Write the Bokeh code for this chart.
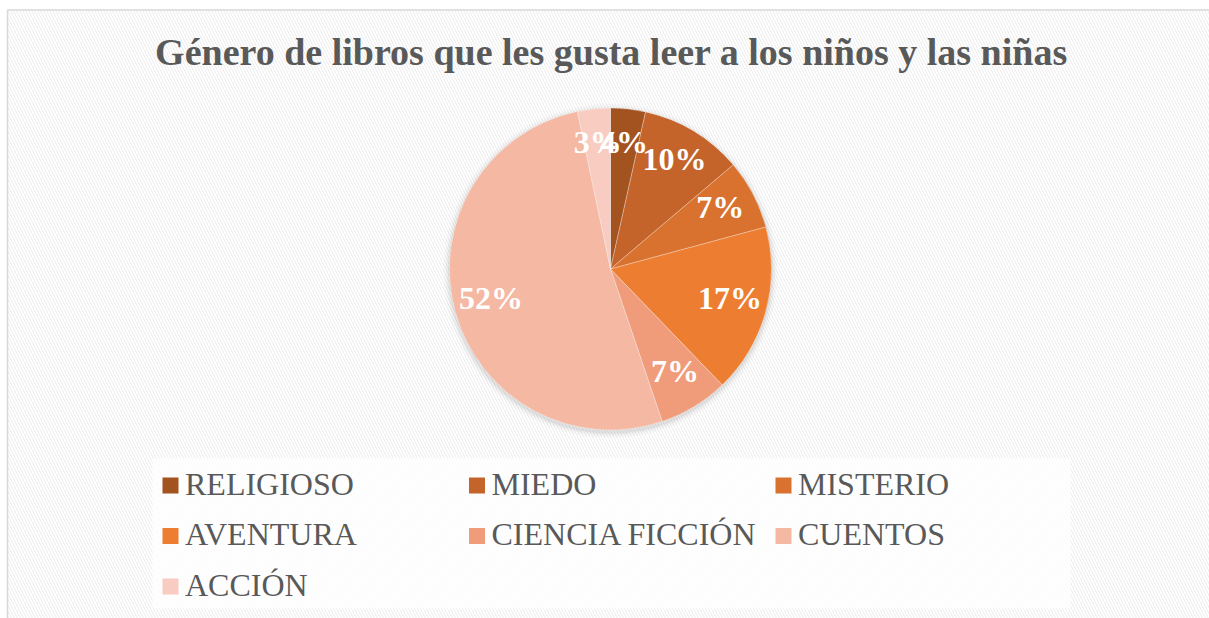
import math
from bokeh.plotting import figure
from bokeh.models import Range1d
from bokeh.core.properties import value
from bokeh.embed import file_html
from bokeh.resources import INLINE

# ---- data ----
title_text = "Género de libros que les gusta leer a los niños y las niñas"
categories = ["RELIGIOSO", "MIEDO", "MISTERIO", "AVENTURA", "CIENCIA FICCIÓN", "CUENTOS", "ACCIÓN"]
values = [3.5, 10.3, 7.0, 17.0, 7.0, 51.9, 3.3]
colors = ["#A3531F", "#C4642A", "#D9722F", "#ED7D31", "#F09C7B", "#F4B8A3", "#F8CCC1"]

# ---- layout (figure pixels, y up) ----
W, H = 1209, 618
p = figure(width=W, height=H, x_range=Range1d(0, W), y_range=Range1d(0, H),
           output_backend="svg", toolbar_location=None, min_border=0)
p.axis.visible = False
p.grid.visible = False
p.outline_line_color = None
p.background_fill_color = "white"
p.border_fill_color = "white"

def sx(x):
    return x

def sy(y):
    return H - y

# hatched background with border
p.quad(left=[sx(7)], right=[sx(1215)], bottom=[sy(625)], top=[sy(9.5)],
       fill_color="white", line_color="#d9d9d9", line_width=1.5,
       hatch_pattern="left_diagonal_line", hatch_color="#ececec",
       hatch_scale=6, hatch_weight=1)

# legend box
p.quad(left=[sx(152)], right=[sx(1070)], bottom=[sy(608)], top=[sy(458)],
       fill_color="white", fill_alpha=0.75, line_color=None)

# title
p.text(x=[sx(611)], y=[sy(51)], text=[title_text], text_align="center",
       text_baseline="middle", text_font=value("Liberation Serif"),
       text_font_style="bold", text_font_size="38px", text_color="#595959")

# pie
cx, cy, r = sx(610), sy(268.5), 161
for rr, a in [(167, 0.05), (164.5, 0.08), (162.5, 0.12)]:
    p.circle(x=[cx], y=[cy - 2], radius=rr, fill_color="#808080",
             fill_alpha=a, line_color=None)

total = sum(values)
starts, ends, mids = [], [], []
cum = 0.0
for v in values:
    a0 = math.pi / 2 - cum / total * 2 * math.pi
    cum += v
    a1 = math.pi / 2 - cum / total * 2 * math.pi
    starts.append(a0)
    ends.append(a1)
    mids.append((a0 + a1) / 2)

p.wedge(x=[cx] * len(values), y=[cy] * len(values), radius=r,
        start_angle=starts, end_angle=ends, direction="clock",
        fill_color=colors, line_color="white", line_width=0.6, line_alpha=0.5)

labels = ["%d%%" % int(v / total * 100 + 0.5) for v in values]
lr = 0.77 * r
lx = [cx + lr * math.cos(m) for m in mids]
ly = [cy + lr * math.sin(m) + 4 for m in mids]
p.text(x=lx, y=ly, text=labels, text_align="center", text_baseline="middle",
       text_font=value("Liberation Serif"), text_font_style="bold",
       text_font_size="32px", text_color="white")

# legend
ncol = 3
col_x0, col_dx = 170, 306.5
row_y0, row_dy = 485, 50.5
mx = [sx(col_x0 + (i % ncol) * col_dx) for i in range(len(categories))]
my = [sy(row_y0 + (i // ncol) * row_dy) for i in range(len(categories))]
p.rect(x=mx, y=my, width=16, height=16, fill_color=colors, line_color=None)
p.text(x=[x + 14.5 for x in mx], y=[y + 2 for y in my], text=categories,
       text_align="left", text_baseline="middle",
       text_font=value("Liberation Serif"), text_font_size="32px",
       text_color="#595959")

open("out.html", "w").write(file_html(p, INLINE))
